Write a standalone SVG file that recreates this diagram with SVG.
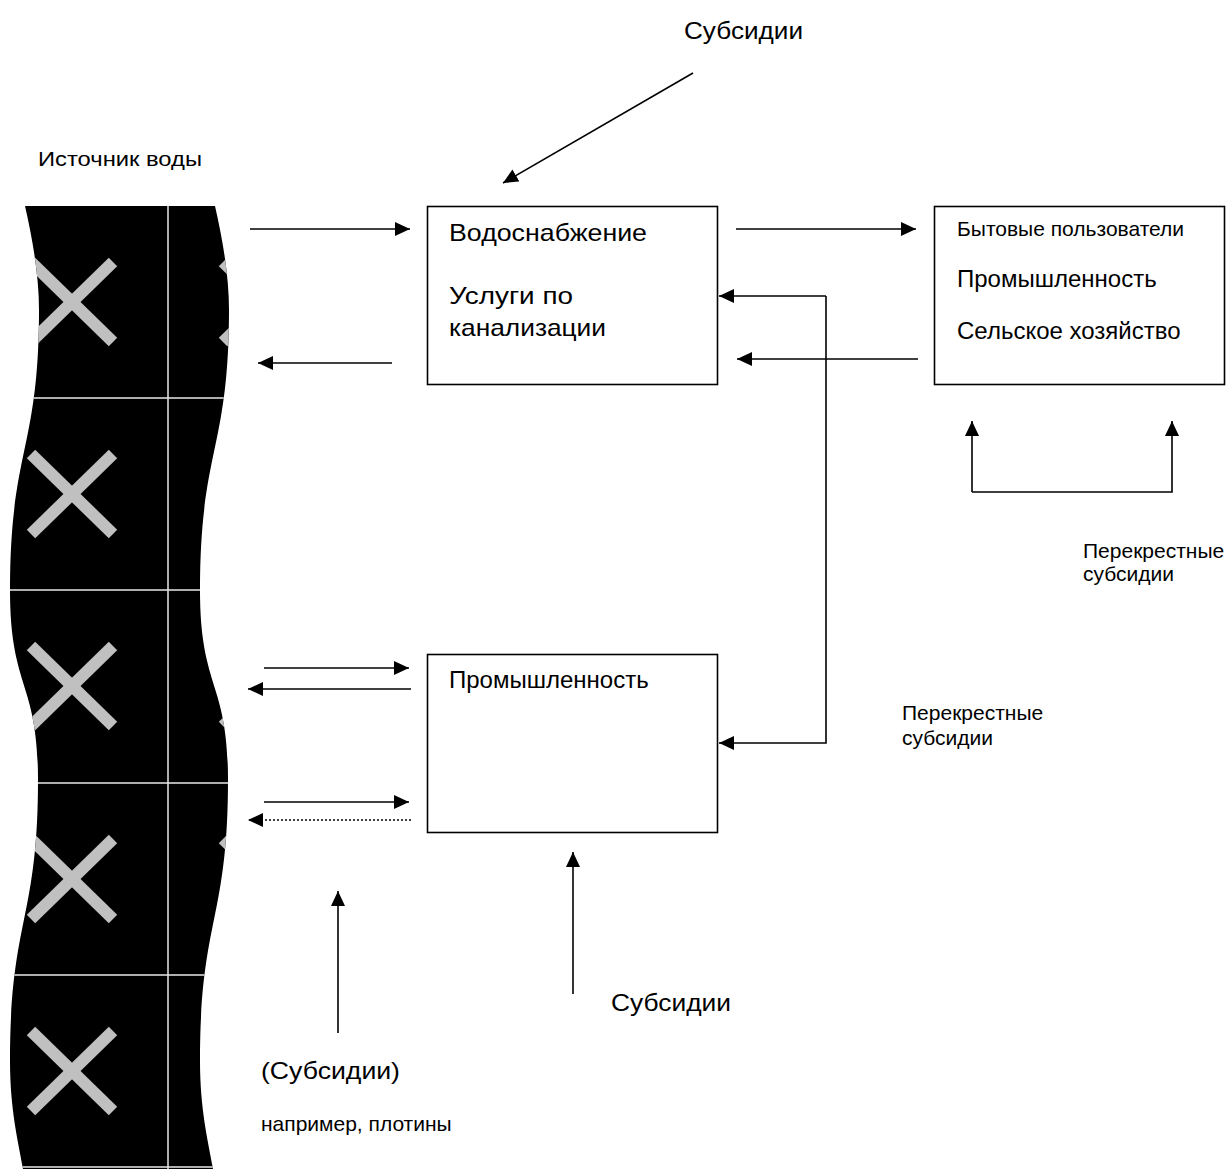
<svg xmlns="http://www.w3.org/2000/svg" xmlns:xlink="http://www.w3.org/1999/xlink" width="1227" height="1169" viewBox="0 0 1227 1169">
<style>
text{font-family:"Liberation Sans",Arial,sans-serif;fill:#000}
.l{font-size:24px}
.s{font-size:21px}
.box{fill:#fff;stroke:#000;stroke-width:1.6}
.c{fill:none;stroke:#000;stroke-width:1.6}
.dot{stroke-dasharray:2 2}
.grid{stroke:#e8e8e8;stroke-width:1.5}
.xl{stroke:#c0c0c0;stroke-width:12}
</style>
<defs>
<marker id="ah" markerUnits="userSpaceOnUse" markerWidth="16" markerHeight="14" refX="15" refY="7" orient="auto">
<path d="M0,0 L15,7 L0,14 Z" fill="#000"/>
</marker>
<clipPath id="band">
<path d="M25,206 C34,245 39,280 39,310 C39,450 10,450 10,590 C10,690 38,680 38,780 C38,920 10,920 10,1060 C10,1110 18,1140 23,1169 L213,1169 C208,1140 200,1110 200,1060 C200,920 228,920 228,780 C228,680 200,690 200,590 C200,450 229,450 229,310 C229,280 224,245 215,206 Z"/>
</clipPath>
<g id="xm">
<line class="xl" x1="-41" y1="-40" x2="41" y2="40"/>
<line class="xl" x1="-41" y1="40" x2="41" y2="-40"/>
</g>
</defs>
<rect width="1227" height="1169" fill="#fff"/>

<g id="water-source" clip-path="url(#band)">
<rect x="0" y="206" width="240" height="963" fill="#000"/>
<use xlink:href="#xm" x="72" y="302"/>
<use xlink:href="#xm" x="72" y="494"/>
<use xlink:href="#xm" x="72" y="686"/>
<use xlink:href="#xm" x="72" y="879"/>
<use xlink:href="#xm" x="72" y="1071"/>
<use xlink:href="#xm" x="264" y="302"/>
<use xlink:href="#xm" x="264" y="494"/>
<use xlink:href="#xm" x="264" y="686"/>
<use xlink:href="#xm" x="264" y="879"/>
<use xlink:href="#xm" x="264" y="1071"/>
<line class="grid" x1="168" y1="206" x2="168" y2="1169"/>
<line class="grid" x1="0" y1="398" x2="240" y2="398"/>
<line class="grid" x1="0" y1="590" x2="240" y2="590"/>
<line class="grid" x1="0" y1="783" x2="240" y2="783"/>
<line class="grid" x1="0" y1="975" x2="240" y2="975"/>
<line class="grid" x1="0" y1="1167" x2="240" y2="1167"/>
</g>
<text id="label-source" class="s" x="38" y="166" textLength="164" lengthAdjust="spacingAndGlyphs">Источник воды</text>

<g id="node-supply">
<rect class="box" x="427.5" y="206.5" width="290" height="178"/>
<text class="l" x="449" y="241" textLength="198" lengthAdjust="spacingAndGlyphs">Водоснабжение</text>
<text class="l" x="449" y="304" textLength="124" lengthAdjust="spacingAndGlyphs">Услуги по</text>
<text class="l" x="449" y="336" textLength="157" lengthAdjust="spacingAndGlyphs">канализации</text>
</g>

<g id="node-users">
<rect class="box" x="934.5" y="206.5" width="290" height="178"/>
<text class="s" x="957" y="236">Бытовые пользователи</text>
<text class="l" x="957" y="287">Промышленность</text>
<text class="l" x="957" y="339">Сельское хозяйство</text>
</g>

<g id="node-industry">
<rect class="box" x="427.5" y="654.5" width="290" height="178"/>
<text class="l" x="449" y="688">Промышленность</text>
</g>

<g id="connectors">
<line class="c" x1="250" y1="229" x2="410" y2="229" marker-end="url(#ah)"/>
<line class="c" x1="392" y1="363" x2="258" y2="363" marker-end="url(#ah)"/>
<line class="c" x1="736" y1="229" x2="916" y2="229" marker-end="url(#ah)"/>
<line class="c" x1="918" y1="359" x2="737" y2="359" marker-end="url(#ah)"/>
<polyline class="c" points="826,296 826,743 719,743" marker-end="url(#ah)"/>
<line class="c" x1="826" y1="296" x2="719" y2="296" marker-end="url(#ah)"/>
<polyline class="c" points="972,492 972,421" marker-end="url(#ah)"/>
<polyline class="c" points="972,492 1172,492 1172,421" marker-end="url(#ah)"/>
<line class="c" x1="693" y1="73" x2="503" y2="183" marker-end="url(#ah)"/>
<line class="c" x1="264" y1="668" x2="409" y2="668" marker-end="url(#ah)"/>
<line class="c" x1="411" y1="689" x2="248" y2="689" marker-end="url(#ah)"/>
<line class="c" x1="264" y1="802" x2="409" y2="802" marker-end="url(#ah)"/>
<line class="c dot" x1="411" y1="820" x2="248" y2="820" marker-end="url(#ah)"/>
<line class="c" x1="338" y1="1033" x2="338" y2="891" marker-end="url(#ah)"/>
<line class="c" x1="573" y1="994" x2="573" y2="852" marker-end="url(#ah)"/>
</g>

<g id="labels">
<text class="l" x="684" y="39" textLength="119" lengthAdjust="spacingAndGlyphs">Субсидии</text>
<text class="s" x="1083" y="558">Перекрестные</text>
<text class="s" x="1083" y="581">субсидии</text>
<text class="s" x="902" y="720">Перекрестные</text>
<text class="s" x="902" y="745">субсидии</text>
<text class="l" x="611" y="1011" textLength="120" lengthAdjust="spacingAndGlyphs">Субсидии</text>
<text class="l" x="261" y="1079" textLength="139" lengthAdjust="spacingAndGlyphs">(Субсидии)</text>
<text class="s" x="261" y="1131">например, плотины</text>
</g>
</svg>
